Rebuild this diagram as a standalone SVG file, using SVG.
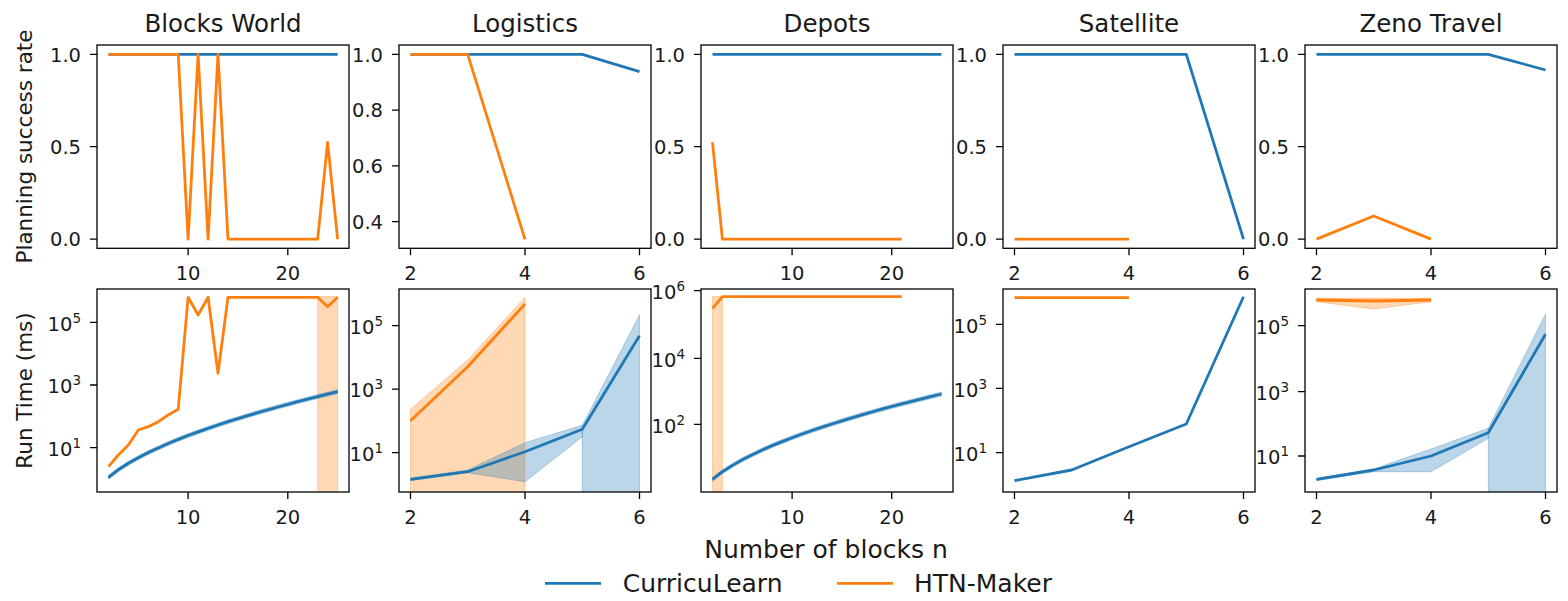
<svg xmlns="http://www.w3.org/2000/svg" width="1568" height="601" viewBox="0 0 1568 601">
<style>
.bg{fill:#fff}
.ax{fill:none;stroke:#000;stroke-width:1.3}
.tk{stroke:#000;stroke-width:1.3}
.t{font-family:'DejaVu Sans','Liberation Sans',sans-serif;font-size:19.5px;fill:#1a1a1a}
.e{text-anchor:end}
.m{text-anchor:middle}
.sup{font-size:13.5px}
.ttl{font-family:'DejaVu Sans','Liberation Sans',sans-serif;font-size:24.5px;fill:#1a1a1a;text-anchor:middle}
.lab{font-family:'DejaVu Sans','Liberation Sans',sans-serif;font-size:21.5px;fill:#1a1a1a;text-anchor:middle}
.big{font-family:'DejaVu Sans','Liberation Sans',sans-serif;font-size:25px;fill:#1a1a1a}
.bl{fill:none;stroke:#1f77b4;stroke-width:2.8;stroke-linejoin:round}
.ol{fill:none;stroke:#ff7f0e;stroke-width:2.8;stroke-linejoin:round}
.bb{fill:#1f77b4;fill-opacity:0.3;stroke:#1f77b4;stroke-opacity:0.3;stroke-width:1}
.ob{fill:#ff7f0e;fill-opacity:0.3;stroke:#ff7f0e;stroke-opacity:0.3;stroke-width:1}
</style>
<defs>
<clipPath id="c1"><rect x="97" y="289" width="252" height="203"/></clipPath>
<clipPath id="c2"><rect x="399" y="289" width="252" height="203"/></clipPath>
<clipPath id="c3"><rect x="701" y="289" width="252" height="203"/></clipPath>
<clipPath id="c4"><rect x="1003" y="289" width="252" height="203"/></clipPath>
<clipPath id="c5"><rect x="1305" y="289" width="252" height="203"/></clipPath>
</defs>
<rect class="bg" x="0" y="0" width="1568" height="601"/>

<!-- Row labels -->
<text class="lab" transform="translate(32,146.5) rotate(-90)">Planning success rate</text>
<text class="lab" transform="translate(32,390.5) rotate(-90)">Run Time (ms)</text>

<!-- Blocks World top -->
<g id="bw-top">
<text class="ttl" x="223" y="31.5">Blocks World</text>
<polyline class="bl" points="108.5,54.3 337.6,54.3"/>
<polyline class="ol" points="108.5,54.3 178.2,54.3 188.1,239.1 198.1,54.3 208.1,239.1 218,54.3 228,239.1 317.7,239.1 327.6,142.3 337.6,239.1"/>
<rect class="ax" x="97" y="45" width="252" height="203.3"/>
<path class="tk" d="M90,54.3H97M90,146.7H97M90,239.1H97M188.1,248.3V255.3M287.8,248.3V255.3"/>
<text class="t e" x="81" y="61.5">1.0</text>
<text class="t e" x="81" y="153.9">0.5</text>
<text class="t e" x="81" y="246.3">0.0</text>
<text class="t m" x="188.1" y="280">10</text>
<text class="t m" x="287.8" y="280">20</text>
</g>

<!-- Blocks World bottom -->
<g id="bw-bottom">
<g clip-path="url(#c1)">
<rect class="ob" x="317.7" y="296.5" width="19.9" height="200"/>
<polygon class="bb" points="108.5,475.3 118.4,467.7 128.4,461.3 138.3,455.7 148.3,450.6 158.3,445.9 168.2,441.5 178.2,437.4 188.1,433.5 198.1,429.9 208.1,426.4 218,423 228,419.7 238,416.6 247.9,413.6 257.9,410.6 267.8,407.8 277.8,405 287.8,402.3 297.7,399.7 307.7,397.1 317.7,394.6 327.6,392.1 337.6,389.7 337.6,393.7 327.6,396.1 317.7,398.6 307.7,401.1 297.7,403.7 287.8,406.3 277.8,409 267.8,411.8 257.9,414.6 247.9,417.6 238,420.6 228,423.7 218,427 208.1,430.4 198.1,433.9 188.1,437.5 178.2,441.4 168.2,445.5 158.3,449.9 148.3,454.6 138.3,459.7 128.4,465.3 118.4,471.7 108.5,479.3"/>
</g>
<polyline class="ol" points="108.5,466.7 118.4,455 128.4,445 138.3,430 148.3,426.7 158.3,421.7 168.2,415 178.2,409.3 188.1,297.3 198.1,315 208.1,297.3 218,373.3 228,297.3 317.7,297.3 327.6,306.7 337.6,297.3"/>
<polyline class="bl" points="108.5,477.3 118.4,469.7 128.4,463.3 138.3,457.7 148.3,452.6 158.3,447.9 168.2,443.5 178.2,439.4 188.1,435.5 198.1,431.9 208.1,428.4 218,425 228,421.7 238,418.6 247.9,415.6 257.9,412.6 267.8,409.8 277.8,407 287.8,404.3 297.7,401.7 307.7,399.1 317.7,396.6 327.6,394.1 337.6,391.7"/>
<rect class="ax" x="97" y="289" width="252" height="203"/>
<path class="tk" d="M90,322.3H97M90,385H97M90,447.7H97M188.1,492V499M287.8,492V499"/>
<text class="t e" x="81" y="330.5">10<tspan class="sup" dy="-8">5</tspan></text>
<text class="t e" x="81" y="393.2">10<tspan class="sup" dy="-8">3</tspan></text>
<text class="t e" x="81" y="455.9">10<tspan class="sup" dy="-8">1</tspan></text>
<text class="t m" x="188.1" y="523.5">10</text>
<text class="t m" x="287.8" y="523.5">20</text>
</g>

<!-- Logistics top -->
<g id="lg-top">
<text class="ttl" x="525" y="31.5">Logistics</text>
<polyline class="bl" points="410.5,54.3 582.3,54.3 639.5,71.7"/>
<polyline class="ol" points="410.5,54.3 467.7,54.3 525,239.3"/>
<rect class="ax" x="399" y="45" width="252" height="203.3"/>
<path class="tk" d="M392,54.3H399M392,110.1H399M392,165.9H399M392,221.7H399M410.5,248.3V255.3M525,248.3V255.3M639.5,248.3V255.3"/>
<text class="t e" x="383" y="61.5">1.0</text>
<text class="t e" x="383" y="117.3">0.8</text>
<text class="t e" x="383" y="173.1">0.6</text>
<text class="t e" x="383" y="228.9">0.4</text>
<text class="t m" x="410.5" y="280">2</text>
<text class="t m" x="525" y="280">4</text>
<text class="t m" x="639.5" y="280">6</text>
</g>

<!-- Logistics bottom -->
<g id="lg-bottom">
<g clip-path="url(#c2)">
<polygon class="ob" points="410.5,409.3 467.7,360 525,297.3 525,496 410.5,496"/>
<polygon class="bb" points="410.5,478 467.7,470 525,442.7 582.3,425.3 582.3,436.7 525,481.7 467.7,472.7 410.5,480.7"/>
<polygon class="bb" points="582.3,425.3 639.5,315 639.5,496 582.3,496"/>
</g>
<polyline class="ol" points="410.5,420.7 467.7,366.7 525,304"/>
<polyline class="bl" points="410.5,479.3 467.7,471.7 525,451.7 582.3,429.3 639.5,335.7"/>
<rect class="ax" x="399" y="289" width="252" height="203"/>
<path class="tk" d="M392,325.7H399M392,389.2H399M392,452.7H399M410.5,492V499M525,492V499M639.5,492V499"/>
<text class="t e" x="383" y="333.9">10<tspan class="sup" dy="-8">5</tspan></text>
<text class="t e" x="383" y="397.4">10<tspan class="sup" dy="-8">3</tspan></text>
<text class="t e" x="383" y="460.9">10<tspan class="sup" dy="-8">1</tspan></text>
<text class="t m" x="410.5" y="523.5">2</text>
<text class="t m" x="525" y="523.5">4</text>
<text class="t m" x="639.5" y="523.5">6</text>
</g>

<!-- Depots top -->
<g id="dp-top">
<text class="ttl" x="827" y="31.5">Depots</text>
<polyline class="bl" points="712.5,54.3 941.5,54.3"/>
<polyline class="ol" points="712.5,142.3 722.4,239.1 901.7,239.1"/>
<rect class="ax" x="701" y="45" width="252" height="203.3"/>
<path class="tk" d="M694,54.3H701M694,146.7H701M694,239.1H701M792.1,248.3V255.3M891.7,248.3V255.3"/>
<text class="t e" x="685" y="61.5">1.0</text>
<text class="t e" x="685" y="153.9">0.5</text>
<text class="t e" x="685" y="246.3">0.0</text>
<text class="t m" x="792.1" y="280">10</text>
<text class="t m" x="891.7" y="280">20</text>
</g>

<!-- Depots bottom -->
<g id="dp-bottom">
<g clip-path="url(#c3)">
<rect class="ob" x="712.5" y="296.5" width="9.9" height="200"/>
<polygon class="bb" points="712.5,477.3 722.4,469.7 732.4,463.4 742.3,457.7 752.3,452.7 762.3,448 772.2,443.6 782.2,439.6 792.1,435.7 802.1,432 812.1,428.5 822,425.2 832,422 842,418.8 851.9,415.8 861.9,412.8 871.8,410 881.8,407.2 891.7,404.5 901.7,401.9 911.7,399.4 921.6,396.9 931.6,394.4 941.5,392 941.5,396 931.6,398.4 921.6,400.9 911.7,403.4 901.7,405.9 891.7,408.5 881.8,411.2 871.8,414 861.9,416.8 851.9,419.8 842,422.8 832,426 822,429.2 812.1,432.5 802.1,436 792.1,439.7 782.2,443.6 772.2,447.6 762.3,452 752.3,456.7 742.3,461.7 732.4,467.4 722.4,473.7 712.5,481.3"/>
</g>
<polyline class="ol" points="712.5,308.3 722.4,296.7 901.7,296.7"/>
<polyline class="bl" points="712.5,479.3 722.4,471.7 732.4,465.4 742.3,459.7 752.3,454.7 762.3,450 772.2,445.6 782.2,441.6 792.1,437.7 802.1,434 812.1,430.5 822,427.2 832,424 842,420.8 851.9,417.8 861.9,414.8 871.8,412 881.8,409.2 891.7,406.5 901.7,403.9 911.7,401.4 921.6,398.9 931.6,396.4 941.5,394"/>
<rect class="ax" x="701" y="289" width="252" height="203"/>
<path class="tk" d="M694,290.7H701M694,358.3H701M694,424.3H701M792.1,492V499M891.7,492V499"/>
<text class="t e" x="685" y="298.9">10<tspan class="sup" dy="-8">6</tspan></text>
<text class="t e" x="685" y="366.5">10<tspan class="sup" dy="-8">4</tspan></text>
<text class="t e" x="685" y="432.5">10<tspan class="sup" dy="-8">2</tspan></text>
<text class="t m" x="792.1" y="523.5">10</text>
<text class="t m" x="891.7" y="523.5">20</text>
</g>

<!-- Satellite top -->
<g id="st-top">
<text class="ttl" x="1129" y="31.5">Satellite</text>
<polyline class="bl" points="1014.5,54.3 1186.3,54.3 1243.5,239.1"/>
<polyline class="ol" points="1014.5,239.1 1129,239.1"/>
<rect class="ax" x="1003" y="45" width="252" height="203.3"/>
<path class="tk" d="M996,54.3H1003M996,146.7H1003M996,239.1H1003M1014.5,248.3V255.3M1129,248.3V255.3M1243.5,248.3V255.3"/>
<text class="t e" x="987" y="61.5">1.0</text>
<text class="t e" x="987" y="153.9">0.5</text>
<text class="t e" x="987" y="246.3">0.0</text>
<text class="t m" x="1014.5" y="280">2</text>
<text class="t m" x="1129" y="280">4</text>
<text class="t m" x="1243.5" y="280">6</text>
</g>

<!-- Satellite bottom -->
<g id="st-bottom">
<polyline class="ol" points="1014.5,297.7 1129,297.7"/>
<polyline class="bl" points="1014.5,480.7 1071.7,470 1129,446.7 1186.3,424 1243.5,296.7"/>
<rect class="ax" x="1003" y="289" width="252" height="203"/>
<path class="tk" d="M996,324.3H1003M996,388.3H1003M996,452.7H1003M1014.5,492V499M1129,492V499M1243.5,492V499"/>
<text class="t e" x="987" y="332.5">10<tspan class="sup" dy="-8">5</tspan></text>
<text class="t e" x="987" y="396.5">10<tspan class="sup" dy="-8">3</tspan></text>
<text class="t e" x="987" y="460.9">10<tspan class="sup" dy="-8">1</tspan></text>
<text class="t m" x="1014.5" y="523.5">2</text>
<text class="t m" x="1129" y="523.5">4</text>
<text class="t m" x="1243.5" y="523.5">6</text>
</g>

<!-- Zeno Travel top -->
<g id="zt-top">
<text class="ttl" x="1431" y="31.5">Zeno Travel</text>
<polyline class="bl" points="1316.5,54.3 1488.3,54.3 1545.5,70"/>
<polyline class="ol" points="1316.5,239.1 1373.7,216 1431,239.1"/>
<rect class="ax" x="1305" y="45" width="252" height="203.3"/>
<path class="tk" d="M1298,54.3H1305M1298,146.7H1305M1298,239.1H1305M1316.5,248.3V255.3M1431,248.3V255.3M1545.5,248.3V255.3"/>
<text class="t e" x="1289" y="61.5">1.0</text>
<text class="t e" x="1289" y="153.9">0.5</text>
<text class="t e" x="1289" y="246.3">0.0</text>
<text class="t m" x="1316.5" y="280">2</text>
<text class="t m" x="1431" y="280">4</text>
<text class="t m" x="1545.5" y="280">6</text>
</g>

<!-- Zeno Travel bottom -->
<g id="zt-bottom">
<g clip-path="url(#c5)">
<polygon class="ob" points="1316.5,298.3 1373.7,298 1431,298.3 1431,301.7 1373.7,309 1316.5,301.7"/>
<polygon class="bb" points="1316.5,478.3 1373.7,469 1431,449 1488.3,428.3 1488.3,438.3 1431,471.7 1373.7,471.7 1316.5,480.7"/>
<polygon class="bb" points="1488.3,428.3 1545.5,314 1545.5,496 1488.3,496"/>
</g>
<polyline class="ol" points="1316.5,300 1373.7,301 1431,300"/>
<polyline class="bl" points="1316.5,479.3 1373.7,470 1431,456 1488.3,432.7 1545.5,334.3"/>
<rect class="ax" x="1305" y="289" width="252" height="203"/>
<path class="tk" d="M1298,325.7H1305M1298,391.7H1305M1298,456H1305M1316.5,492V499M1431,492V499M1545.5,492V499"/>
<text class="t e" x="1289" y="333.9">10<tspan class="sup" dy="-8">5</tspan></text>
<text class="t e" x="1289" y="399.9">10<tspan class="sup" dy="-8">3</tspan></text>
<text class="t e" x="1289" y="464.2">10<tspan class="sup" dy="-8">1</tspan></text>
<text class="t m" x="1316.5" y="523.5">2</text>
<text class="t m" x="1431" y="523.5">4</text>
<text class="t m" x="1545.5" y="523.5">6</text>
</g>

<!-- Figure x label and legend -->
<text class="big" x="826" y="558" text-anchor="middle">Number of blocks n</text>
<g id="legend">
<line x1="545" y1="583.3" x2="601" y2="583.3" stroke="#1f77b4" stroke-width="2.8"/>
<text class="big" x="622.7" y="592">CurricuLearn</text>
<line x1="837" y1="583.3" x2="893" y2="583.3" stroke="#ff7f0e" stroke-width="2.8"/>
<text class="big" x="914" y="592">HTN-Maker</text>
</g>
</svg>
